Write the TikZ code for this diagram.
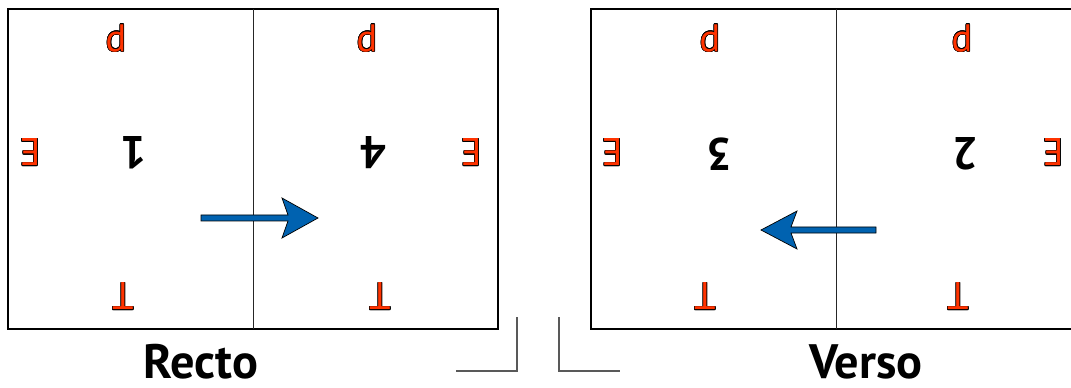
\documentclass[tikz,border=0pt]{standalone}
\usepackage{fontspec}
\setmainfont{PT Sans}
\usepackage[copies]{contour}
\contourlength{0.35pt}
\definecolor{markred}{RGB}{255,51,0}
\definecolor{flipblue}{RGB}{0,98,176}
\tikzset{
  sheet/.style={draw=black,line width=0.6pt},
  fold/.style={draw=black!85,line width=0.5pt},
  pagenum/.style={rotate=180,inner sep=0pt,font=\fontsize{26}{26}\selectfont\bfseries},
  edgemark/.style={rotate=180,inner sep=0pt,text=markred,font=\fontsize{22}{22}\selectfont},
  sidelabel/.style={inner sep=0pt,font=\fontsize{27.5}{28}\selectfont\bfseries},
  turnarrow/.style={draw=black,line width=0.4pt,fill=flipblue,line join=miter},
  cropmark/.style={draw=black!65,line width=0.6pt}
}
\newcommand{\edgeletter}[1]{\contour{black}{#1}}

\begin{document}
\begin{tikzpicture}[x=0.02cm,y=-0.02cm]
\useasboundingbox (0,0) rectangle (1071,388);
\clip (0,0) rectangle (1071,388);

% recto sheet
\draw[sheet] (8,9) rectangle (498,329);
\draw[fold] (253,9) -- (253,329);
% verso sheet (runs off the right edge)
\draw[sheet] (591,9) rectangle (1081,329);
\draw[fold] (836,9) -- (836,329);

% page numbers, upside down
\node[pagenum] (pg1) at (134,153) {1};
\node[pagenum] (pg4) at (374,153) {4};
\node[pagenum] (pg3) at (720,154) {3};
\node[pagenum] (pg2) at (966,154) {2};

% red edge letters
\node[edgemark] (topA) at (116,38) {\edgeletter{p}};
\node[edgemark] (topB) at (367,38) {\edgeletter{p}};
\node[edgemark] (topC) at (710,38) {\edgeletter{p}};
\node[edgemark] (topD) at (962,38) {\edgeletter{p}};

\node[edgemark] (sideA) at (30,152) {\edgeletter{E}};
\node[edgemark] (sideB) at (471,152) {\edgeletter{E}};
\node[edgemark] (sideC) at (612,152) {\edgeletter{E}};
\node[edgemark] (sideD) at (1053,152) {\edgeletter{E}};

\node[edgemark] (botA) at (123,296) {\edgeletter{T}};
\node[edgemark] (botB) at (380,296) {\edgeletter{T}};
\node[edgemark] (botC) at (705,296) {\edgeletter{T}};
\node[edgemark] (botD) at (958,296) {\edgeletter{T}};

% turning arrows
\coordinate (rectoTip) at (318,218);
\coordinate (versoTip) at (761,230);
\draw[turnarrow] (rectoTip) -- ++(-36,-20) -- ++(6,17) -- ++(-87,0) -- ++(0,6)
  -- ++(87,0) -- ++(-6,17) -- cycle;
\draw[turnarrow] (versoTip) -- ++(36,-19) -- ++(-6,16) -- ++(85,0) -- ++(0,6)
  -- ++(-85,0) -- ++(6,16) -- cycle;

\node[sidelabel] (recto) at (201,362) {Recto};
\node[sidelabel] (verso) at (866,362) {Verso};

% crop marks between the sheets
\draw[cropmark] (517,317) -- (517,371) -- (456,371);
\draw[cropmark] (559,317) -- (559,371) -- (620,371);
\end{tikzpicture}
\end{document}
